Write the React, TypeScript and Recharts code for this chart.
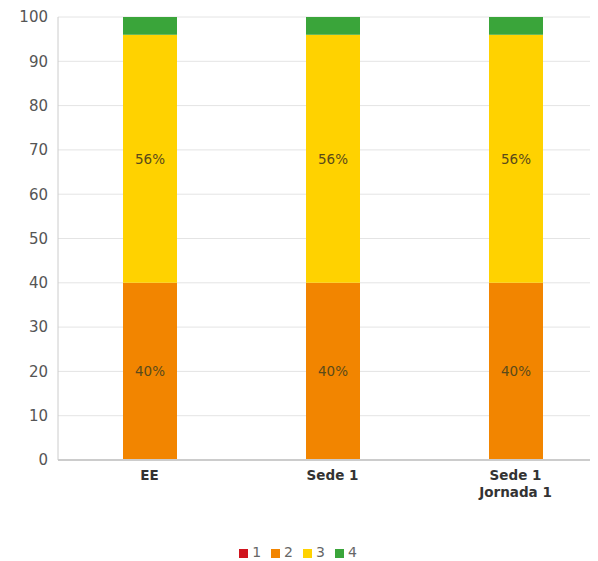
import React from "react";
import { BarChart, Bar, XAxis, YAxis, CartesianGrid, Legend, LabelList } from "recharts";

const categories = ["EE", "Sede 1", "Sede 1\nJornada 1"];
const level1 = [0, 0, 0];
const level2 = [40, 40, 40];
const level3 = [56, 56, 56];
const level4 = [4, 4, 4];
const yTicks = [0, 10, 20, 30, 40, 50, 60, 70, 80, 90, 100];

const data = categories.map((c, i) => ({
  name: c,
  l1: level1[i],
  l2: level2[i],
  l3: level3[i],
  l4: level4[i],
}));

const FONT = "'DejaVu Sans', 'Liberation Sans', sans-serif";

const XTick = (props: any) => {
  const { x, y, payload } = props;
  const lines = String(payload.value).split("\n");
  return (
    <g transform={`translate(${x},${y})`}>
      {lines.map((l, i) => (
        <text
          key={i}
          x={0}
          y={i * 17}
          dy={12}
          textAnchor="middle"
          fontFamily={FONT}
          fontSize={13.5}
          fontWeight="bold"
          fill="#333"
        >
          {l}
        </text>
      ))}
    </g>
  );
};

const pctLabel = (props: any) => {
  const { x, y, width, height, value } = props;
  if (!value || value < 10) return null;
  return (
    <text
      x={x + width / 2}
      y={y + height / 2}
      dy={5}
      textAnchor="middle"
      fontFamily={FONT}
      fontSize={13.5}
      fill="#5a4a1a"
    >
      {value}%
    </text>
  );
};

export default function App() {
  return (
    <BarChart
      width={590}
      height={552}
      data={data}
      margin={{ top: 9, right: 0, bottom: 0, left: 0 }}
    >
      <CartesianGrid vertical={false} stroke="#e4e4e4" />
      <XAxis
        dataKey="name"
        tick={<XTick />}
        interval={0}
        tickLine={false}
        axisLine={{ stroke: "#cccccc", strokeWidth: 2 }}
        padding={{ left: 0, right: -9 }}
        height={64}
      />
      <YAxis
        domain={[0, 100]}
        ticks={yTicks}
        width={50}
        tickLine={false}
        tickSize={0}
        tickMargin={10}
        axisLine={{ stroke: "#cccccc" }}
        tick={{ fontFamily: FONT, fontSize: 15, fill: "#555" }}
        interval={0}
      />
      <Legend
        iconType="square"
        iconSize={9}
        verticalAlign="bottom"
        wrapperStyle={{ fontFamily: FONT, fontSize: 14, color: "#666", paddingTop: 20 }}
        formatter={(v: any) => <span style={{ color: "#666" }}>{v}</span>}
      />
      <Bar dataKey="l1" name="1" stackId="a" fill="#d0141e" barSize={54} isAnimationActive={false} />
      <Bar dataKey="l2" name="2" stackId="a" fill="#f28500" barSize={54} isAnimationActive={false}>
        <LabelList dataKey="l2" content={pctLabel} />
      </Bar>
      <Bar dataKey="l3" name="3" stackId="a" fill="#ffd200" barSize={54} isAnimationActive={false}>
        <LabelList dataKey="l3" content={pctLabel} />
      </Bar>
      <Bar dataKey="l4" name="4" stackId="a" fill="#3aa53a" barSize={54} isAnimationActive={false} />
    </BarChart>
  );
}
